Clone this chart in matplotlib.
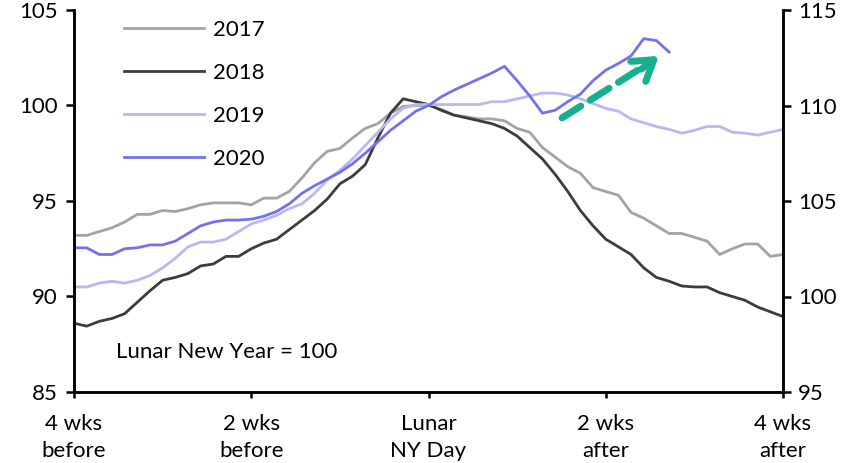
import matplotlib
matplotlib.use("Agg")
import matplotlib.pyplot as plt
import numpy as np

days = list(range(-28, 29))
s2017 = [93.2, 93.2, 93.4, 93.6, 93.9, 94.3, 94.3, 94.5, 94.45, 94.6, 94.8, 94.9, 94.9, 94.9,
         94.8, 95.15, 95.15, 95.5, 96.2, 97.0, 97.6, 97.75, 98.3, 98.8, 99.05, 99.6, 99.95, 100.0, 100.0,
         99.8, 99.5, 99.4, 99.3, 99.3, 99.2, 98.8, 98.6, 97.8, 97.3, 96.8, 96.45, 95.7, 95.5,
         95.3, 94.4, 94.1, 93.7, 93.3, 93.3, 93.1, 92.9, 92.2, 92.5, 92.75, 92.75, 92.1, 92.2]
s2018 = [88.6, 88.45, 88.7, 88.85, 89.1, 89.7, 90.3, 90.85, 91.0, 91.2, 91.6, 91.7, 92.1, 92.1,
         92.5, 92.8, 93.0, 93.5, 94.0, 94.5, 95.1, 95.9, 96.3, 96.9, 98.3, 99.6, 100.35, 100.2, 100.05,
         99.75, 99.5, 99.35, 99.2, 99.05, 98.8, 98.4, 97.8, 97.2, 96.4, 95.5, 94.5, 93.7, 93.0,
         92.6, 92.2, 91.5, 91.0, 90.8, 90.55, 90.5, 90.5, 90.2, 90.0, 89.8, 89.45, 89.2, 88.95]
s2019 = [90.5, 90.5, 90.7, 90.8, 90.7, 90.85, 91.1, 91.5, 92.0, 92.6, 92.85, 92.85, 93.0, 93.4,
         93.8, 94.0, 94.25, 94.6, 94.85, 95.4, 96.1, 96.6, 97.2, 97.9, 98.6, 99.3, 99.85, 100.05, 100.05,
         100.05, 100.05, 100.05, 100.05, 100.2, 100.2, 100.35, 100.5, 100.65, 100.65, 100.55, 100.35, 100.1, 99.85,
         99.7, 99.3, 99.1, 98.9, 98.75, 98.55, 98.7, 98.9, 98.9, 98.6, 98.55, 98.45, 98.6, 98.75]
s2020 = [92.55, 92.55, 92.2, 92.2, 92.5, 92.55, 92.7, 92.7, 92.9, 93.3, 93.7, 93.9, 94.0, 94.0,
         94.05, 94.2, 94.45, 94.85, 95.4, 95.8, 96.15, 96.5, 96.95, 97.5, 98.1, 98.7, 99.2, 99.7, 100.0,
         100.45, 100.8, 101.1, 101.4, 101.7, 102.05, 101.3, 100.5, 99.6, 99.75, 100.2, 100.6, 101.3, 101.85,
         102.2, 102.6, 103.5, 103.4, 102.8]

xtick_pos = [-28, -14, 0, 14, 28]
xtick_labels = ["4 wks\nbefore", "2 wks\nbefore", "Lunar\nNY Day", "2 wks\nafter", "4 wks\nafter"]
left_ticks = [85, 90, 95, 100, 105]
right_ticks = [95, 100, 105, 110, 115]

plt.rcParams['font.family'] = ['Lato', 'DejaVu Sans']
FS = 16

fig = plt.figure(figsize=(8.47, 4.63), dpi=100)
L, R, T, B = 74, 783, 10, 392
ax = fig.add_axes([L/847, 1-B/463, (R-L)/847, (B-T)/463])

ax.plot(days, s2017, color="#a3a3a3", lw=2.0, label="2017")
ax.plot(days, s2018, color="#3c3c3c", lw=2.0, label="2018")
ax.plot(days, s2019, color="#b8b8f5", lw=2.0, label="2019")
ax.plot(days[:len(s2020)], s2020, color="#7272ee", lw=2.0, label="2020")

teal = "#16b08f"
ax.annotate("", xy=(17.6, 102.3), xytext=(10.55, 99.35),
            arrowprops=dict(arrowstyle="-", color=teal, lw=5, linestyle=(0, (3.2, 1.6)),
                            capstyle="round", shrinkA=0, shrinkB=0))
ax.annotate("", xy=(18.2, 102.6), xytext=(16.8, 101.9),
            arrowprops=dict(arrowstyle="->,head_length=0.7,head_width=0.45", color=teal, lw=5,
                            mutation_scale=20, capstyle="round", joinstyle="round",
                            shrinkA=0, shrinkB=0))

ax.set_xlim(-28, 28)
ax.set_ylim(85, 105)
ax.set_yticks(left_ticks)
ax.set_xticks(xtick_pos)
ax.set_xticklabels(xtick_labels, linespacing=1.45)

ax2 = ax.twinx()
ax2.set_ylim(95, 115)
ax2.set_yticks(right_ticks)

for a in (ax, ax2):
    a.spines["top"].set_visible(False)
    for sp in ("left", "right", "bottom"):
        a.spines[sp].set_linewidth(1.8)
    a.tick_params(direction="out", length=6, width=1.8, labelsize=FS, colors="black")
ax.tick_params(axis="x", length=4.5, pad=11.5)
ax.tick_params(axis="y", pad=6)
ax2.tick_params(axis="y", pad=5)

ax.text(-24.7, 87.1, "Lunar New Year = 100", fontsize=FS, va="center", ha="left")

leg = ax.legend(loc="upper left", bbox_to_anchor=(0.042, 1.027), frameon=False, fontsize=FS,
                handlelength=3.6, handletextpad=0.4, labelspacing=1.04)

fig.savefig("out.png", dpi=100)
